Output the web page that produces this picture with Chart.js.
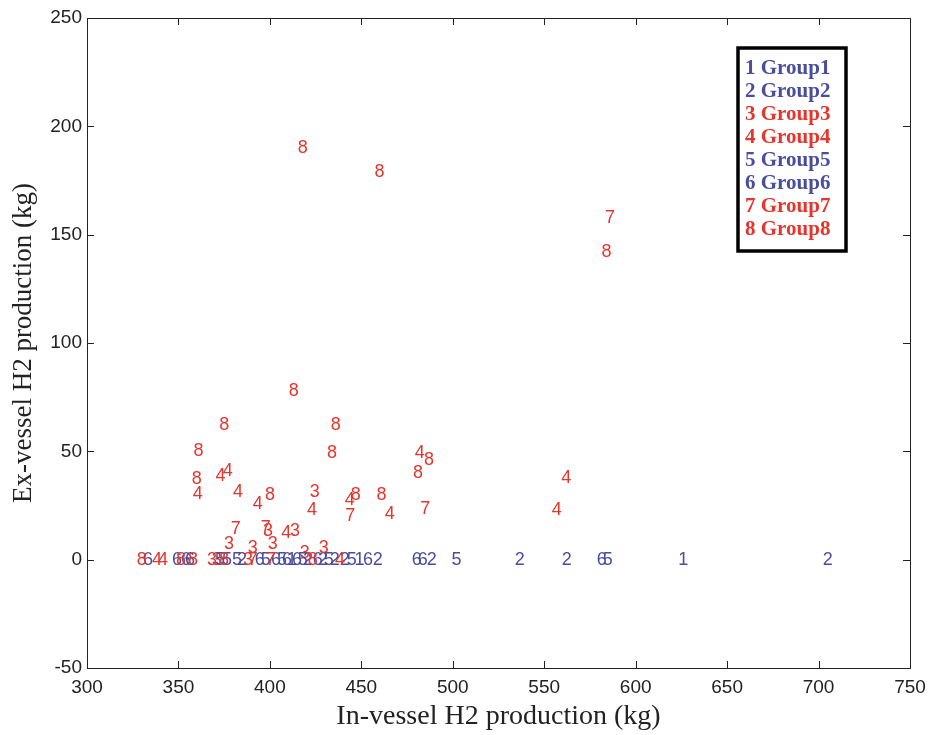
<!DOCTYPE html>
<html>
<head>
<meta charset="utf-8">
<script src="https://cdn.jsdelivr.net/npm/chart.js"></script>
<style>
  html, body { margin: 0; padding: 0; background: #fff; }
  #wrap { width: 935px; height: 735px; }
</style>
</head>
<body>
<div id="wrap"><canvas id="h2Chart" width="935" height="735"></canvas></div>
<script>
// in-vessel (x) and ex-vessel (y) H2 production per group, kg
const group1In = [412, 449, 626];
const group1Ex = [0, 0, 0];
const group2In = [384.7, 420.8, 429, 435.5, 441, 459, 488.5, 536.6, 562.3, 705];
const group2Ex = [0, 0, 0, 0, 0, 0, 0, 0, 0, 0];
const group3In = [424.6, 377.6, 390.7, 401.6, 399, 413.7, 419, 429.5, 368.3, 371, 388];
const group3Ex = [31, 7.4, 5.5, 7.4, 13.4, 13, 3.2, 5.5, 0, 0, 0];
const group4In = [482, 373, 377, 360.6, 382.5, 393.4, 423, 465.6, 556.8, 562, 443.7, 409, 338.3, 341.5, 438.3];
const group4Ex = [49.4, 38.7, 41, 30.4, 31.4, 25.8, 23, 21.2, 23, 37.8, 27.7, 12.5, 0, 0, 0];
const group5In = [372.7, 376.5, 382, 397.8, 406.6, 418, 432.2, 444.8, 502, 584.7];
const group5Ex = [0, 0, 0, 0, 0, 0, 0, 0, 0, 0];
const group6In = [333.3, 349.2, 354.1, 356.3, 394.5, 403.3, 409.3, 414.8, 426.2, 453.6, 480.3, 483.6, 581.4];
const group6Ex = [0, 0, 0, 0, 0, 0, 0, 0, 0, 0, 0, 0, 0];
const group7In = [381.4, 397.8, 444, 485, 586, 390.7, 400.5];
const group7Ex = [14.3, 14.8, 20.3, 23.5, 157.7, 0, 0];
const group8In = [418, 460, 584, 413, 375, 436, 361, 434, 487, 481, 360, 400, 447, 461, 330, 351.4, 357.9, 374.9, 423.5];
const group8Ex = [190, 179, 142, 78, 62, 62, 50, 49, 46, 40, 37, 30, 30, 30, 0, 0, 0, 0, 0];

const groupNames = ['Group1', 'Group2', 'Group3', 'Group4', 'Group5', 'Group6', 'Group7', 'Group8'];
const xTicks = [300, 350, 400, 450, 500, 550, 600, 650, 700, 750];
const yTicks = [-50, 0, 50, 100, 150, 200, 250];

const BLUE = '#4a4d9e';
const RED = '#e5352c';
const groupColors = [BLUE, BLUE, RED, RED, BLUE, BLUE, RED, RED];

const allIn = [group1In, group2In, group3In, group4In, group5In, group6In, group7In, group8In];
const allEx = [group1Ex, group2Ex, group3Ex, group4Ex, group5Ex, group6Ex, group7Ex, group8Ex];

const datasets = groupNames.map(function (name, i) {
    return {
        label: name,
        data: allIn[i].map(function (x, j) { return { x: x, y: allEx[i][j] }; }),
        pointRadius: 0,
        pointHoverRadius: 0,
        borderColor: groupColors[i],
        backgroundColor: groupColors[i],
        showLine: false
    };
});

// draws each point as its group number, like matlab text()
const numberMarks = {
    id: 'numberMarks',
    afterDatasetsDraw(chart) {
        const ctx = chart.ctx;
        ctx.save();
        ctx.font = '18px "Liberation Sans", Arial, sans-serif';
        ctx.textAlign = 'center';
        ctx.textBaseline = 'middle';
        chart.data.datasets.forEach(function (ds, i) {
            const meta = chart.getDatasetMeta(i);
            ctx.fillStyle = groupColors[i];
            meta.data.forEach(function (el) {
                ctx.fillText(String(i + 1), el.x, el.y);
            });
        });
        ctx.restore();
    }
};

// box frame, inward ticks and the legend box
const frameAndLegend = {
    id: 'frameAndLegend',
    afterDraw(chart) {
        const ctx = chart.ctx;
        const a = chart.chartArea;
        const xs = chart.scales.x, ys = chart.scales.y;
        ctx.save();
        ctx.strokeStyle = '#222';
        ctx.lineWidth = 1;
        ctx.strokeRect(a.left + 0.5, a.top + 0.5, a.right - a.left, a.bottom - a.top);
        ctx.beginPath();
        xTicks.forEach(function (v) {
            const px = Math.round(xs.getPixelForValue(v)) + 0.5;
            ctx.moveTo(px, a.bottom); ctx.lineTo(px, a.bottom - 7);
            ctx.moveTo(px, a.top); ctx.lineTo(px, a.top + 7);
        });
        yTicks.forEach(function (v) {
            const py = Math.round(ys.getPixelForValue(v)) + 0.5;
            ctx.moveTo(a.left, py); ctx.lineTo(a.left + 7, py);
            ctx.moveTo(a.right, py); ctx.lineTo(a.right - 7, py);
        });
        ctx.stroke();

        // legend
        const lx = 738, ly = 48, lw = 108, lh = 203;
        ctx.fillStyle = '#fff';
        ctx.fillRect(lx, ly, lw, lh);
        ctx.lineWidth = 3.5;
        ctx.strokeStyle = '#000';
        ctx.strokeRect(lx, ly, lw, lh);
        ctx.font = 'bold 21px "Liberation Serif", "Times New Roman", serif';
        ctx.textAlign = 'left';
        ctx.textBaseline = 'middle';
        groupNames.forEach(function (name, i) {
            ctx.fillStyle = groupColors[i];
            ctx.fillText((i + 1) + ' ' + name, lx + 7, ly + 21 + i * 23);
        });
        ctx.restore();
    }
};

new Chart(document.getElementById('h2Chart').getContext('2d'), {
    type: 'scatter',
    data: { datasets: datasets },
    plugins: [numberMarks, frameAndLegend],
    options: {
        responsive: false,
        animation: false,
        events: [],
        layout: { padding: { top: 18, right: 25, left: 0, bottom: 0 } },
        plugins: {
            legend: { display: false },
            tooltip: { enabled: false }
        },
        scales: {
            x: {
                type: 'linear',
                min: 300,
                max: 750,
                afterBuildTicks(scale) { scale.ticks = xTicks.map(function (v) { return { value: v }; }); },
                afterFit(scale) { scale.height = 67; },
                grid: { display: false, drawTicks: false },
                border: { display: false },
                ticks: {
                    color: '#222',
                    padding: 8,
                    maxRotation: 0,
                    font: { family: '"Liberation Sans", Arial, sans-serif', size: 19 }
                },
                title: {
                    display: true,
                    text: 'In-vessel H2 production (kg)',
                    color: '#222',
                    padding: { top: 0, bottom: 2 },
                    font: { family: '"Liberation Serif", "Times New Roman", serif', size: 28 }
                }
            },
            y: {
                type: 'linear',
                min: -50,
                max: 250,
                afterBuildTicks(scale) { scale.ticks = yTicks.map(function (v) { return { value: v }; }); },
                afterFit(scale) { scale.width = 87; },
                grid: { display: false, drawTicks: false },
                border: { display: false },
                ticks: {
                    color: '#222',
                    padding: 5,
                    font: { family: '"Liberation Sans", Arial, sans-serif', size: 19 }
                },
                title: {
                    display: true,
                    text: 'Ex-vessel H2 production (kg)',
                    color: '#222',
                    padding: { top: 8, bottom: 0 },
                    font: { family: '"Liberation Serif", "Times New Roman", serif', size: 27 }
                }
            }
        }
    }
});
</script>
</body>
</html>
